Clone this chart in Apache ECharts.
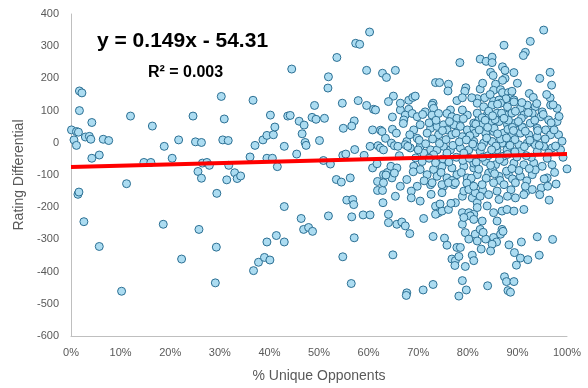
<!DOCTYPE html>
<html>
<head>
<meta charset="utf-8">
<script src="https://cdn.jsdelivr.net/npm/echarts@6/dist/echarts.min.js"></script>
<style>
html,body{margin:0;padding:0;background:#fff;}
#chart{width:588px;height:388px;}
</style>
</head>
<body>
<div id="chart"></div>
<script>
// x = % unique opponents, y = rating differential
const sparseLeft = [
[0.1,40],[0.6,9],[1.1,35],[1.5,33],[1.1,-8],[1.7,161],[2.2,155],[1.7,100],[2.9,18],[3.7,20],[4.0,11],[4.2,63],[4.2,-48],[5.7,-38],[6.5,11],[7.6,7],[11.2,-127],[12.0,83],[14.7,-61],[16.1,-61],[16.4,52],[18.8,-11],[20.4,-48],[21.7,9],[24.6,83],[25.1,3],[26.3,1],[25.6,-89],[26.3,-110],[26.5,-63],[27.4,-61],[27.9,-70],[29.4,-157],[30.3,144],[30.9,74],[30.6,9],[31.7,7],[31.4,-115],[31.8,-70],[33.0,-93],[33.5,-111],[34.2,-103],[36.1,-44],[36.7,132],[37.1,-8],[38.7,9],[39.5,23],[39.5,-48],[40.2,86],[40.6,-48],[40.8,25],[41.1,49],[41.6,-74],[43.0,-11],[43.7,83],[44.5,229],
[1.4,-160],[1.6,-153],[2.6,-245],[5.7,-322],[10.2,-461],[18.6,-253],[22.3,-361],[25.8,-269],[29.3,-324],[29.1,-435],[36.8,-397],[37.8,-371],[39.0,-356],[40.1,-364],[39.5,-308],[41.4,-288],[43.0,-308],[43.0,-198]
];
const midRange = [
[60.2,344],[57.4,309],[58.2,306],[53.6,265],[59.6,225],[62.8,216],[63.6,203],[51.9,205],[51.8,170],[49.1,116],[54.7,123],[57.9,131],[59.6,116],[61.0,104],[61.4,102],[44.2,85],[46.0,67],[47.0,55],[48.6,79],[49.4,73],[51.1,76],[57.1,68],[56.6,52],[54.9,45],[60.8,40],[62.4,39],
[46.6,28],[47.2,1],[47.4,-8],[50.1,7],[45.5,-35],[50.9,-55],[52.3,-66],[54.8,-39],[55.4,-35],[57.2,-21],[59.1,-39],[60.3,-11],[61.9,-9],[62.4,-16],[60.8,-78],[61.7,-65],[53.5,-114],[54.5,-122],[56.3,-109],[61.8,-120],[63.0,-99],[63.8,-92],[61.8,-148],[62.8,-148],[55.6,-178],[56.8,-176],[57.0,-192],[46.4,-235],[51.9,-227],[56.6,-230],[58.9,-224],[60.3,-224],[46.9,-269],[47.9,-263],[48.7,-275],[57.1,-295],[54.8,-354],[56.5,-437]
];
const coreUpper = [
[78.4,249],[65.4,225],[73.5,187],[74.3,187],[76.1,182],[76.0,161],[79.6,171],[79.4,160],[65.0,145],[68.1,132],[68.9,141],[69.4,145],[77.8,131],[78.9,140],[73.0,123],[68.1,104],[76.5,102],
[95.3,350],[92.6,315],[87.3,303],[91.6,281],[91.2,271],[82.5,260],[83.7,253],[84.9,266],[84.9,249],[87.0,236],[87.5,225],[84.6,219],[85.1,209],[87.5,200],[87.0,194],[89.3,218],[96.6,219],[96.9,179],[96.6,140],[85.6,182],[85.2,163],[86.6,165],[82.5,167],[87.0,156],[88.2,156],[88.6,140],[87.7,137],[81.9,137],[80.8,140],[83.4,140],[85.2,130],[86.3,133],[89.3,133],[92.4,153],[93.2,141]
];
const coreMiddle = [
[72.8,117],[73.1,107],[71.4,96],[72.8,86],[74.1,91],[66.4,102],[67.4,86],[68.8,91],[67.1,71],[69.8,81],[75.8,91],[76.8,81],[77.8,76],[79.9,86],[78.9,102],[82.2,71],[64.0,128],[66.4,123],
[62.7,35],[63.4,14],[69.1,40],[70.4,56],[72.5,45],[73.8,51],[75.1,56],[75.8,40],[77.2,56],[78.5,51],[79.9,40],[81.2,45],[71.8,30],[74.1,25],[76.8,25],[78.9,19],[80.5,14],[69.8,14],[67.7,4],
[63.0,-22],[67.4,-6],[68.4,-16],[70.4,-11],[72.5,-22],[73.8,-22],[75.1,-11],[76.5,-22],[78.5,-16],[80.2,-22],[81.5,-11],[71.1,-32],[73.1,-37],[75.8,-32],[79.2,-32],
[69.1,-73],[70.4,-83],[73.1,-83],[74.8,-73],[76.8,-78],[79.2,-73],[81.2,-78],[64.7,-109],[67.7,-114],[71.8,-99],[73.8,-104],[75.8,-109],[77.8,-99],[79.9,-109],[63.0,-124],[66.4,-135],[69.8,-135],[72.5,-130],[75.1,-135],[77.2,-130],[80.5,-135],
[64.8,42],[65.6,30],[64.6,-1],[65.2,-9],[65.9,-11],[67.9,-11],[70.0,-22],[64.5,-73],[65.7,-78],[65.2,-94],
[81.9,123],[83.2,112],[84.9,117],[86.6,123],[88.0,112],[89.3,127],[90.6,107],[92.0,117],[93.6,112],[95.0,96],[96.7,117],[98.0,107],[81.9,92],[83.9,86],[85.9,92],[87.6,86],[88.9,92],[91.3,86],[93.0,92],[94.7,81],[96.3,71],[98.0,66],
[81.2,61],[82.9,56],[84.6,61],[86.3,66],[88.0,56],[89.6,61],[90.9,50],[92.6,61],[94.0,45],[95.7,40],[97.3,35],[81.5,30],[83.6,30],[85.2,35],[87.2,30],[88.9,25],[90.6,30],[92.3,25],[94.0,19],[96.7,25],[98.3,25],
[81.2,4],[83.2,-1],[84.9,4],[86.9,-1],[88.6,4],[90.3,-6],[92.0,-1],[93.6,-6],[95.3,-11],[97.0,-16],[98.7,-22],[82.5,-27],[85.9,-22],[87.9,-22],[90.6,-27],[94.0,-27],[96.3,-32],
[81.2,-63],[83.6,-58],[85.6,-68],[87.3,-58],[89.3,-63],[91.3,-68],[93.3,-63],[95.0,-73],[97.0,-68],[100,-81],[81.9,-99],[84.2,-94],[86.3,-104],[88.2,-99],[90.6,-104],[93.0,-99],[96.0,-109]
];
const coreFill = [
[70.9,88],[72.2,62],[73.6,70],[74.9,38],[76.3,66],[77.6,30],[79.1,75],[80.4,22],[81.6,58],
[70.2,8],[71.5,-3],[72.9,12],[74.3,-2],[75.6,10],[77.0,-8],[78.3,3],[79.7,9],[81.0,-4],
[69.5,-47],[70.8,-58],[72.2,-48],[73.5,-62],[75.0,-50],[76.2,-60],[77.7,-45],[79.0,-55],[80.3,-48],[81.7,-60],
[71.2,-118],[74.6,-92],[76.8,-117],[78.7,-92],[80.7,-110],[72.6,-160],[79.8,-125],
[67.0,60],[68.3,25],[69.0,-90],[66.2,-40],[64.8,80],[63.5,-100],
[82.9,78],[84.2,98],[85.5,72],[86.8,92],[88.2,70],[89.6,98],[90.8,76],[92.2,94],[93.5,70],[95.2,88],[96.8,62],[98.4,82],
[82.3,40],[83.8,15],[85.3,45],[86.6,12],[88.1,42],[89.5,10],[91.0,48],[92.5,8],[94.1,38],[95.6,12],[97.4,40],[99.0,5],
[82.8,-12],[84.1,-40],[85.7,-10],[87.1,-42],[88.5,-8],[89.9,-44],[91.4,-12],[92.8,-45],[94.4,-8],[96.0,-48],[97.7,-10],[99.2,-45],
[82.2,-82],[83.7,-110],[85.0,-85],[86.5,-117],[87.8,-88],[89.0,-112],[90.3,-86],[91.9,-118],[93.6,-84],[95.4,-112],[97.5,-92],
[83.0,-148],[85.9,-150],[88.7,-146],[91.7,-152],[94.8,-140],[97.8,-128],
[84.5,150],[86.0,120],[88.9,160],[90.9,125],[93.9,122],[95.9,150],[97.2,118],[83.0,185],[90.0,185],[94.5,200],
[83.5,70],[85.0,84],[87.3,76],[89.0,48],[90.2,66],[84.0,48],[86.0,28],[87.8,15],[89.2,38],[91.6,36],[83.0,-45],[84.8,-22],[86.4,-52],[88.0,-36],[89.5,-28],[91.8,-40],[85.4,-96],[88.9,-80],[92.4,-80],[84.6,-70]
];
const coreLower = [
[62.9,-186],[65.4,-166],[68.6,-150],[68.6,-171],[70.4,-181],[72.8,-124],[73.5,-197],[74.8,-130],[74.8,-155],[76.1,-124],[77.5,-124],[77.5,-186],[74.1,-217],[73.5,-222],[74.8,-212],[76.1,-207],[78.9,-166],[79.2,-150],[80.2,-145],[80.9,-171],[81.9,-186],[81.5,-155],[78.9,-217],[80.2,-217],[81.2,-222],[64.0,-222],[64.0,-248],[65.7,-253],[66.7,-246],[67.4,-258],[68.3,-282],[71.1,-235],[73.0,-291],[75.3,-296],[75.8,-318],[77.8,-325],[78.5,-325],[78.9,-253],[79.5,-279],[80.2,-299],[81.5,-284],[81.9,-305],[80.5,-227],[79.2,-232],[64.9,-348],[76.8,-361],[77.5,-366],[78.2,-353],[77.4,-381],[79.5,-384],[80.9,-349],[81.2,-366],[78.9,-428],[79.7,-457],[78.2,-476],[73.0,-440],[71.0,-457],[67.7,-466],[67.6,-474],[74.4,-190],[76.6,-188],
[81.2,-135],[82.9,-130],[85.2,-124],[87.3,-130],[89.6,-124],[91.6,-135],[93.0,-145],[94.5,-161],[96.1,-135],[96.4,-178],[82.5,-166],[84.2,-161],[86.3,-176],[88.0,-166],[89.6,-171],[91.3,-161],[81.9,-201],[83.9,-196],[85.2,-217],[86.9,-212],[87.9,-207],[89.3,-212],[91.3,-207],[81.2,-238],[82.9,-243],[85.9,-243],[82.5,-269],[83.6,-299],[85.2,-294],[86.9,-269],[86.6,-284],[85.8,-308],[84.9,-315],[88.3,-317],[90.8,-308],[94.0,-292],[97.1,-300],[82.7,-330],[84.6,-336],[89.4,-341],[90.6,-358],[92.1,-363],[94.4,-349],[89.8,-380],[87.4,-416],[87.8,-431],[89.3,-431],[88.1,-459],[88.6,-464],[84.0,-444],[87.1,-275],[83.1,-278]
];
// trendline as drawn
const trendX = [0, 100];
const trendY = [-75, -35];

const points = [].concat(sparseLeft, midRange, coreUpper, coreMiddle, coreFill, coreLower);
const trendData = trendX.map((x, i) => [x, trendY[i]]);

const chart = echarts.init(document.getElementById('chart'), null, {renderer: 'canvas'});
const FONT = '"Liberation Sans", Arial, sans-serif';
chart.setOption({
  animation: false,
  backgroundColor: '#ffffff',
  grid: {left: 71, right: 21, top: 14, bottom: 50, containLabel: false},
  xAxis: {
    type: 'value', min: 0, max: 100, interval: 10,
    name: '% Unique Opponents', nameLocation: 'middle', nameGap: 33,
    nameTextStyle: {color: '#595959', fontSize: 14, fontFamily: FONT},
    axisLine: {show: true, onZero: false, lineStyle: {color: '#bfbfbf', width: 1}},
    axisTick: {show: false},
    splitLine: {show: false},
    axisLabel: {formatter: '{value}%', color: '#595959', fontSize: 11, fontFamily: FONT, margin: 11}
  },
  yAxis: {
    type: 'value', min: -600, max: 400, interval: 100,
    name: 'Rating Differential', nameLocation: 'middle', nameGap: 38,
    nameTextStyle: {color: '#595959', fontSize: 14, fontFamily: FONT},
    axisLine: {show: true, onZero: false, lineStyle: {color: '#bfbfbf', width: 1}},
    axisTick: {show: false},
    splitLine: {show: false},
    axisLabel: {color: '#595959', fontSize: 11, fontFamily: FONT, margin: 12}
  },
  series: [
    {
      type: 'scatter', data: points, symbol: 'circle', symbolSize: 8,
      itemStyle: {color: '#acdcf1', borderColor: '#2b6f93', borderWidth: 1, opacity: 1},
      z: 2
    },
    {
      type: 'line', data: trendData, showSymbol: false, symbol: 'none',
      lineStyle: {color: '#ff0000', width: 4}, z: 5
    }
  ],
  graphic: [
    {type: 'text', left: 97, top: 31, z: 10,
     style: {text: 'y = 0.149x - 54.31', font: 'bold 21px ' + FONT, fill: '#000000'}},
    {type: 'text', left: 148, top: 65, z: 10,
     style: {text: 'R² = 0.003', font: 'bold 16px ' + FONT, fill: '#000000'}}
  ]
});
</script>
</body>
</html>
